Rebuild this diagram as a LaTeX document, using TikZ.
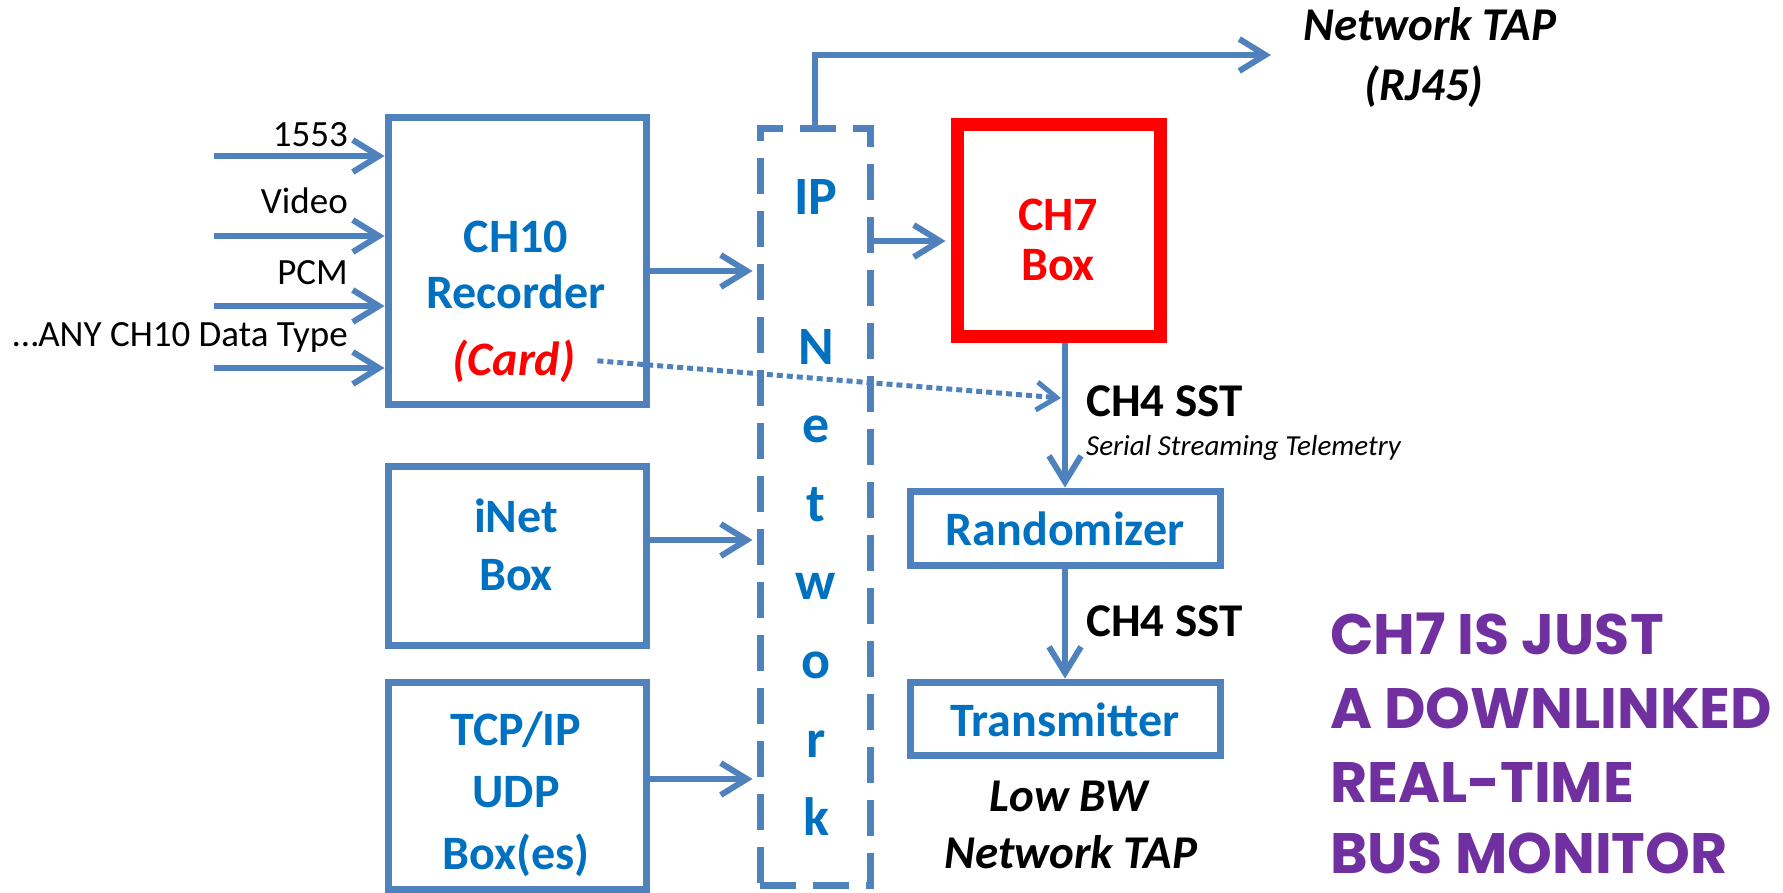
\documentclass[tikz,border=0pt]{standalone}
\usepackage{fontspec}
\setmainfont{Carlito}
\newfontfamily\handfont{Poppins}
\usetikzlibrary{arrows.meta}
\definecolor{lineblue}{RGB}{79,129,189}
\definecolor{textblue}{RGB}{0,112,192}
\definecolor{hotred}{RGB}{255,0,0}
\definecolor{notepurple}{RGB}{112,48,160}
\begin{document}
\begin{tikzpicture}[x=1pt,y=-1pt,
  wire/.style={draw=lineblue,line width=6pt},
  flow/.style={wire,-{Straight Barb[length=26pt,width=32pt]}},
  dotflow/.style={draw=lineblue,line width=5pt,dash pattern=on 6pt off 4pt,
    -{Straight Barb[length=20pt,width=28pt,line width=5pt]}},
  unit/.style={draw=lineblue,line width=7pt,rectangle,inner sep=0pt},
  netbox/.style={draw=lineblue,line width=7pt,dash pattern=on 36pt off 17pt,inner sep=0pt},
  inlabel/.style={anchor=base east,inner sep=0pt,font=\fontsize{37}{44}\selectfont},
  bluetext/.style={anchor=base,inner sep=0pt,text=textblue,font=\bfseries\fontsize{48}{58}\selectfont},
  redtext/.style={anchor=base,inner sep=0pt,text=hotred,font=\bfseries\fontsize{48}{58}\selectfont},
  blacktext/.style={anchor=base,inner sep=0pt,font=\bfseries\fontsize{47}{56}\selectfont},
  tapnote/.style={anchor=base,inner sep=0pt,font=\bfseries\itshape\fontsize{47}{56}\selectfont},
  netletter/.style={anchor=base,inner sep=0pt,text=textblue,font=\bfseries\fontsize{54}{64}\selectfont},
  remark/.style={anchor=base west,inner sep=0pt,text=notepurple,font=\handfont\bfseries\fontsize{57}{68}\selectfont}]
\useasboundingbox (0,0) rectangle (1783,892);

% boxes
\node[unit,minimum width=258pt,minimum height=287pt] (rec) at (517,260.5) {};
\node[unit,minimum width=258pt,minimum height=179pt] (inet) at (517,555.5) {};
\node[unit,minimum width=258pt,minimum height=207pt] (tcp) at (517,785.5) {};
\node[netbox,minimum width=110pt,minimum height=757pt] (net) at (815,506.5) {};
\node[draw=hotred,line width=13pt,inner sep=0pt,minimum width=203pt,minimum height=212pt] (ch7) at (1058.5,230) {};
\node[unit,minimum width=310pt,minimum height=74pt] (rand) at (1065,528) {};
\node[unit,minimum width=310pt,minimum height=73pt] (trans) at (1065,718.5) {};

% box texts
\node[bluetext] (recA) at (516,252) {CH10};
\node[bluetext] (recB) at (516,308) {Recorder};
\node[redtext,font=\bfseries\itshape\fontsize{48}{58}\selectfont] (card) at (514,375) {(Card)};
\node[bluetext] (inetA) at (516,532) {iNet};
\node[bluetext] (inetB) at (516,590) {Box};
\node[bluetext] (tcpA) at (516,745) {TCP/IP};
\node[bluetext] (tcpB) at (516,807) {UDP};
\node[bluetext] (tcpC) at (516,869) {Box(es)};
\node[redtext] (ch7A) at (1058,230) {CH7};
\node[redtext] (ch7B) at (1058,280) {Box};
\node[bluetext] (randT) at (1065,545) {Randomizer};
\node[bluetext] (transT) at (1065,736) {Transmitter};

% network column lettering
\node[netletter] (ipT) at (816,214) {IP};
\foreach \ch [count=\i from 0] in {N,e,t,w,o,r,k}
  \node[netletter] (nl\i) at (816,364+78.6*\i) {\ch};

% inputs to the recorder
\node[inlabel] (lab1) at (348,146) {1553};
\node[inlabel] (lab2) at (348,213) {Video};
\node[inlabel] (lab3) at (348,284) {PCM};
\node[inlabel] (lab4) at (348,346) {…ANY CH10 Data Type};
\coordinate (srcA) at (214,156);
\coordinate (srcB) at (214,236);
\coordinate (srcC) at (214,306);
\coordinate (srcD) at (214,368);
\foreach \s in {srcA,srcB,srcC,srcD}
  \draw[flow] (\s) -- (\s -| rec.west);

% feeds into the IP network
\coordinate (lvlRec) at (0,271);
\coordinate (lvlInet) at (0,540);
\coordinate (lvlTcp) at (0,779);
\coordinate (lvlCh7) at (0,241);
\draw[flow] (rec.east |- lvlRec) -- ([xshift=-4pt]net.west |- lvlRec);
\draw[flow] (inet.east |- lvlInet) -- ([xshift=-4pt]net.west |- lvlInet);
\draw[flow] (tcp.east |- lvlTcp) -- ([xshift=-4pt]net.west |- lvlTcp);
\draw[flow,shorten >=5pt] (net.east |- lvlCh7) -- (ch7.west |- lvlCh7);

% network tap
\coordinate (tapEnd) at (1271,55);
\draw[flow] (net.north) |- (tapEnd);
\node[tapnote] (tapA) at (1430,40) {Network TAP};
\node[tapnote] (tapB) at (1424,100) {(RJ45)};

% serial chain
\draw[flow] (ch7.south -| rand.north) -- (rand.north);
\draw[flow] (rand.south) -- (trans.north);
\node[blacktext,anchor=base west] (sst1) at (1086,416) {CH4 SST};
\node[anchor=base west,inner sep=0pt,font=\itshape\fontsize{29}{35}\selectfont] (sstNote) at (1086,455) {Serial Streaming Telemetry};
\node[blacktext,anchor=base west] (sst2) at (1086,636) {CH4 SST};
\node[tapnote] (lowA) at (1069,811) {Low BW};
\node[tapnote] (lowB) at (1071,868) {Network TAP};

% card path straight into the serial stream
\coordinate (joinPt) at (1061,398);
\draw[dotflow] ([xshift=22pt]card.east) -- (joinPt);

% side remark
\node[remark] (rm1) at (1330,654) {CH7 IS JUST};
\node[remark] (rm2) at (1330,728) {A DOWNLINKED};
\node[remark] (rm3) at (1330,802) {REAL-TIME};
\node[remark] (rm4) at (1330,873) {BUS MONITOR};
\end{tikzpicture}
\end{document}
